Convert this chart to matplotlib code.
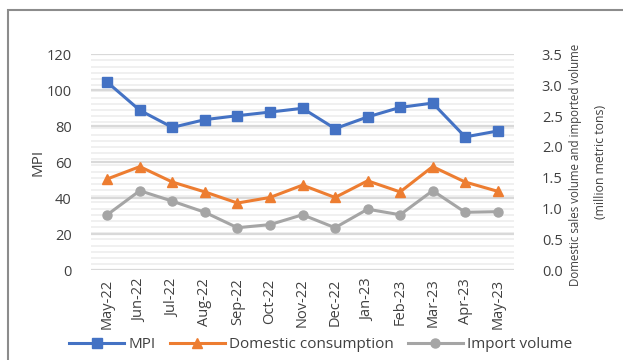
import matplotlib
matplotlib.use("Agg")
import matplotlib.pyplot as plt
from matplotlib.patches import Rectangle
from matplotlib.ticker import FormatStrFormatter, MultipleLocator

plt.rcParams['font.family'] = ['Open Sans', 'DejaVu Sans']

months = ["May-22", "Jun-22", "Jul-22", "Aug-22", "Sep-22", "Oct-22", "Nov-22",
          "Dec-22", "Jan-23", "Feb-23", "Mar-23", "Apr-23", "May-23"]
mpi = [104.5, 88.9, 79.4, 83.7, 85.9, 87.9, 90.0, 78.7, 85.2, 90.5, 92.9, 74.1, 77.4]
domestic = [1.48, 1.68, 1.43, 1.27, 1.09, 1.18, 1.38, 1.18, 1.45, 1.27, 1.68, 1.43, 1.28]
imports = [0.90, 1.29, 1.12, 0.94, 0.69, 0.74, 0.90, 0.69, 0.99, 0.90, 1.29, 0.94, 0.95]

BLUE = "#4472C4"
ORANGE = "#ED7D31"
GREY = "#A5A5A5"
TXT = "#404040"

MPI_MAX = 120
VOL_MAX = 3.5

fig = plt.figure(figsize=(6.23, 3.6), dpi=100)
ax = fig.add_axes([91 / 623, 1 - 270.3 / 360, 423 / 623, 216 / 360])
ax2 = ax.twinx()

# outer chart frame, running off the right and bottom edges
fig.patches.append(Rectangle((8 / 623, -0.1), 1.2, 1.1 - 10 / 360,
                             transform=fig.transFigure, fill=False,
                             edgecolor="#8c8c8c", linewidth=1.5, zorder=0))

x = list(range(len(months)))

ax.set_xlim(-0.5, len(months) - 0.5)
ax.set_ylim(0, MPI_MAX)
ax2.set_ylim(0, VOL_MAX)
ax.yaxis.set_major_locator(MultipleLocator(20))
ax2.yaxis.set_major_locator(MultipleLocator(0.5))
ax2.yaxis.set_major_formatter(FormatStrFormatter("%.1f"))

# light secondary gridlines every 0.1 and stronger primary gridlines every 20
for i in range(36):
    ax2.axhline(i / 10, color="#efefef", linewidth=1.3, zorder=0)
for v in range(0, MPI_MAX + 1, 20):
    ax.axhline(v, color="#d9d9d9", linewidth=1.6, zorder=0.5)

ax.set_zorder(ax2.get_zorder() + 1)
ax.patch.set_visible(False)

# volume series use the right-hand scale; drawn on the left axes so they sit
# above the gridlines
scale = MPI_MAX / VOL_MAX
ax.plot(x, mpi, color=BLUE, linewidth=2.2, marker="s", markersize=6.5,
        label="MPI", zorder=5)
ax.plot(x, [d * scale for d in domestic], color=ORANGE, linewidth=2.2,
        marker="^", markersize=7, label="Domestic consumption", zorder=4)
ax.plot(x, [d * scale for d in imports], color=GREY, linewidth=2.2,
        marker="o", markersize=6.5, label="Import volume", zorder=3)

ax.set_xticks(x)
ax.set_xticklabels(months, rotation=90, fontsize=10.5, color=TXT)
for a in (ax, ax2):
    for s in a.spines.values():
        s.set_visible(False)
    a.tick_params(which="both", length=0, colors=TXT, labelsize=10.5)
ax.tick_params(axis="y", pad=14)
ax.tick_params(axis="x", pad=6)
ax2.tick_params(axis="y", pad=20)

fig.text(38 / 623, 1 - 162 / 360, "MPI", rotation=90, ha="center", va="center",
         fontsize=11, color=TXT)
fig.text(576 / 623, 1 - 165 / 360, "Domestic sales volume and imported volume",
         rotation=90, ha="center", va="center", fontsize=8.3, color=TXT)
fig.text(600 / 623, 1 - 162 / 360, "(million metric tons)",
         rotation=90, ha="center", va="center", fontsize=8.8, color=TXT)

fig.legend(*ax.get_legend_handles_labels(), loc="center",
           bbox_to_anchor=(321 / 623, 1 - 345 / 360), ncol=3, frameon=False,
           fontsize=11, handlelength=3.6, columnspacing=0.9, handletextpad=0.3,
           labelcolor=TXT)

fig.savefig("out.png", dpi=100)
